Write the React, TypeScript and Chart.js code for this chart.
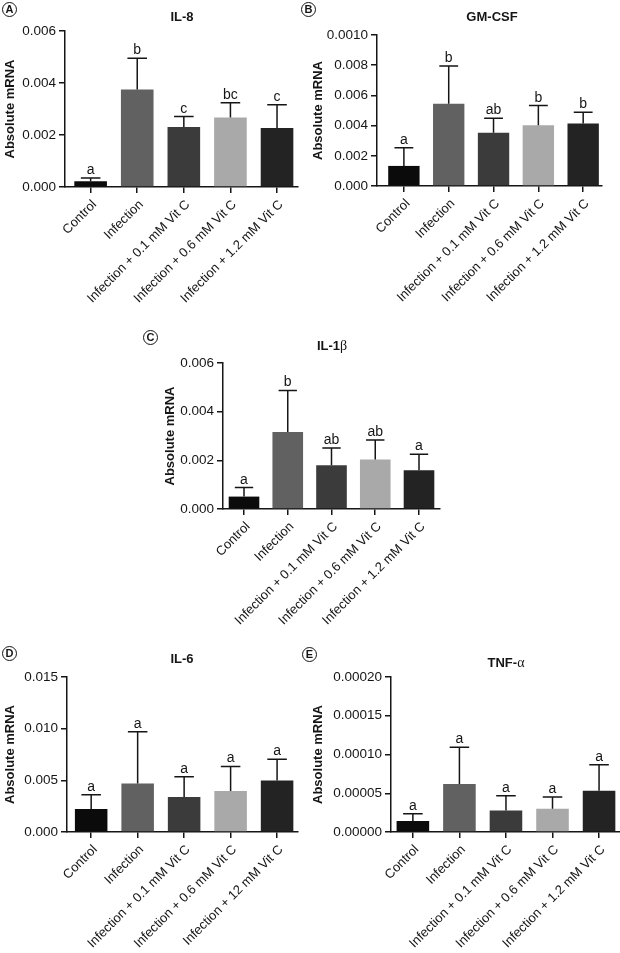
import { useEffect, useRef } from 'react';
import { Chart, registerables } from 'chart.js';

Chart.register(...registerables);

const FONT = '"Liberation Sans", Arial, Helvetica, sans-serif';
const INK = '#151515';

// shared categories + bar fills
const categories = [
  'Control',
  'Infection',
  'Infection + 0.1 mM Vit C',
  'Infection + 0.6 mM Vit C',
  'Infection + 1.2 mM Vit C',
];
// panel D prints the last group without the decimal point
const il6Categories = [
  'Control',
  'Infection',
  'Infection + 0.1 mM Vit C',
  'Infection + 0.6 mM Vit C',
  'Infection + 12 mM Vit C',
];
const barColors = ['#0b0b0b', '#616161', '#3b3b3b', '#a9a9a9', '#232323'];

// IL-8
const il8Mean = [0.00022, 0.00375, 0.00231, 0.00267, 0.00227];
const il8Sd = [0.00013, 0.0012, 0.0004, 0.00057, 0.00089];
const il8Sig = ['a', 'b', 'c', 'bc', 'c'];
const il8Ticks = [0, 0.002, 0.004, 0.006];
const il8TickLabels = ['0.000', '0.002', '0.004', '0.006'];

// GM-CSF (top label is printed as 0.0010 in the source figure)
const gmMean = [0.00133, 0.00544, 0.00352, 0.00403, 0.00414];
const gmSd = [0.00121, 0.0025, 0.00097, 0.0013, 0.00075];
const gmSig = ['a', 'b', 'ab', 'b', 'b'];
const gmTicks = [0, 0.002, 0.004, 0.006, 0.008, 0.01];
const gmTickLabels = ['0.000', '0.002', '0.004', '0.006', '0.008', '0.0010'];

// IL-1beta
const il1Mean = [0.00051, 0.00316, 0.0018, 0.00203, 0.00159];
const il1Sd = [0.00037, 0.00171, 0.00071, 0.00081, 0.00066];
const il1Sig = ['a', 'b', 'ab', 'ab', 'a'];
const il1Ticks = [0, 0.002, 0.004, 0.006];
const il1TickLabels = ['0.000', '0.002', '0.004', '0.006'];

// IL-6
const il6Mean = [0.00222, 0.0047, 0.00338, 0.00396, 0.00499];
const il6Sd = [0.00138, 0.00499, 0.00196, 0.00238, 0.00206];
const il6Sig = ['a', 'a', 'a', 'a', 'a'];
const il6Ticks = [0, 0.005, 0.01, 0.015];
const il6TickLabels = ['0.000', '0.005', '0.010', '0.015'];

// TNF-alpha
const tnfMean = [0.0000142, 0.0000618, 0.0000279, 0.00003, 0.0000532];
const tnfSd = [0.0000094, 0.0000476, 0.0000189, 0.0000151, 0.0000335];
const tnfSig = ['a', 'a', 'a', 'a', 'a'];
const tnfTicks = [0, 0.00005, 0.0001, 0.00015, 0.0002];
const tnfTickLabels = ['0.00000', '0.00005', '0.00010', '0.00015', '0.00020'];

interface Box {
  left: number;
  top: number;
  width: number;
  height: number;
}

interface PanelProps {
  letter: string;
  letterAt: [number, number];
  title: string;
  greek?: string;
  titleAt: [number, number];
  labels?: string[];
  mean: number[];
  sd: number[];
  sig: string[];
  ticks: number[];
  tickLabels: string[];
  box: Box;
  axisX: number;
  topY: number;
  zeroY: number;
  rightX: number;
  xMin: number;
  xMax: number;
}

function Panel(p: PanelProps) {
  const canvasRef = useRef<HTMLCanvasElement>(null);
  const labels = p.labels ?? categories;

  useEffect(() => {
    if (!canvasRef.current) return;
    const ctx = canvasRef.current.getContext('2d');
    if (!ctx) return;

    const errorBars = {
      id: 'errorBars',
      afterDatasetsDraw(chart: any) {
        const c = chart.ctx;
        const y = chart.scales.y;
        const meta = chart.getDatasetMeta(0);
        c.save();
        c.strokeStyle = INK;
        c.fillStyle = INK;
        c.lineWidth = 1.5;
        c.font = `14px ${FONT}`;
        c.textAlign = 'center';
        c.textBaseline = 'alphabetic';
        meta.data.forEach((bar: any, i: number) => {
          const x = bar.x;
          const yt = y.getPixelForValue(p.mean[i] + p.sd[i]);
          const half = bar.width * 0.3;
          c.beginPath();
          c.moveTo(x, bar.y);
          c.lineTo(x, yt);
          c.moveTo(x - half, yt);
          c.lineTo(x + half, yt);
          c.stroke();
          c.fillText(p.sig[i], x, yt - 4);
        });
        c.restore();
      },
    };

    const axisGrid = {
      drawOnChartArea: false,
      drawTicks: true,
      tickLength: 6,
      color: INK,
      lineWidth: 1.5,
    };

    const chart = new Chart(ctx, {
      type: 'bar',
      data: {
        datasets: [
          {
            data: p.mean.map((v, i) => ({ x: i, y: v })),
            backgroundColor: barColors,
            borderWidth: 0,
            barPercentage: 0.7,
            categoryPercentage: 1,
          },
        ],
      },
      options: {
        animation: false,
        responsive: false,
        maintainAspectRatio: false,
        layout: {
          padding: {
            top: p.topY - p.box.top,
            right: p.box.left + p.box.width - p.rightX,
            left: 0,
            bottom: 0,
          },
        },
        plugins: {
          legend: { display: false },
          tooltip: { enabled: false },
        },
        scales: {
          x: {
            type: 'linear',
            min: p.xMin,
            max: p.xMax,
            offset: false,
            afterBuildTicks: (s: any) => {
              s.ticks = labels.map((_, i) => ({ value: i }));
            },
            afterFit: (s: any) => {
              s.height = p.box.top + p.box.height - p.zeroY;
            },
            grid: { ...axisGrid, offset: false },
            border: { color: INK, width: 1.5 },
            ticks: {
              autoSkip: false,
              minRotation: 45,
              maxRotation: 45,
              padding: 4,
              labelOffset: 4,
              color: INK,
              font: { family: FONT, size: 13 },
              callback: (v: any) => labels[v as number],
            },
          },
          y: {
            min: 0,
            max: p.ticks[p.ticks.length - 1],
            afterBuildTicks: (s: any) => {
              s.ticks = p.ticks.map((v) => ({ value: v }));
            },
            afterFit: (s: any) => {
              s.width = p.axisX - p.box.left;
            },
            grid: axisGrid,
            border: { color: INK, width: 1.5 },
            ticks: {
              padding: 3,
              color: INK,
              font: { family: FONT, size: 13.5 },
              callback: (_v: any, i: number) => p.tickLabels[i],
            },
            title: {
              display: true,
              text: 'Absolute mRNA',
              color: INK,
              font: { family: FONT, size: 13, weight: 'bold' },
              padding: { top: 3, bottom: 0 },
            },
          },
        },
      } as any,
      plugins: [errorBars],
    });

    return () => chart.destroy();
  }, []);

  const { box } = p;
  return (
    <>
      <canvas
        ref={canvasRef}
        width={box.width}
        height={box.height}
        style={{ position: 'absolute', left: box.left, top: box.top, width: box.width, height: box.height }}
      />
      <div
        style={{
          position: 'absolute',
          left: p.titleAt[0],
          top: p.titleAt[1] - 8,
          transform: 'translateX(-50%)',
          font: `bold 13px ${FONT}`,
          lineHeight: '16px',
          color: INK,
          whiteSpace: 'nowrap',
        }}
      >
        {p.title}
        {p.greek && (
          <span style={{ fontFamily: '"Liberation Serif", serif', fontWeight: 'normal', fontSize: 14 }}>{p.greek}</span>
        )}
      </div>
      <div
        style={{
          position: 'absolute',
          left: p.letterAt[0] - 8,
          top: p.letterAt[1] - 8,
          width: 13,
          height: 13,
          border: `1.5px solid ${INK}`,
          borderRadius: '50%',
          font: `bold 11px ${FONT}`,
          lineHeight: '13px',
          textAlign: 'center',
          color: INK,
        }}
      >
        {p.letter}
      </div>
    </>
  );
}

export default function App() {
  useEffect(() => {
    document.body.style.margin = '0';
  }, []);

  return (
    <div style={{ position: 'relative', width: 620, height: 953, background: '#fff', overflow: 'hidden' }}>
      <Panel
        letter="A"
        letterAt={[10, 10]}
        title="IL-8"
        titleAt={[182, 17]}
        mean={il8Mean}
        sd={il8Sd}
        sig={il8Sig}
        ticks={il8Ticks}
        tickLabels={il8TickLabels}
        box={{ left: 0, top: 0, width: 305, height: 320 }}
        axisX={65}
        topY={31}
        zeroY={187}
        rightX={298}
        xMin={-0.55}
        xMax={4.45}
      />
      <Panel
        letter="B"
        letterAt={[309, 10]}
        title="GM-CSF"
        titleAt={[492, 17]}
        mean={gmMean}
        sd={gmSd}
        sig={gmSig}
        ticks={gmTicks}
        tickLabels={gmTickLabels}
        box={{ left: 308, top: 0, width: 312, height: 320 }}
        axisX={377}
        topY={35}
        zeroY={186}
        rightX={602}
        xMin={-0.6}
        xMax={4.42}
      />
      <Panel
        letter="C"
        letterAt={[151, 338]}
        title="IL-1"
        greek="β"
        titleAt={[332, 346]}
        mean={il1Mean}
        sd={il1Sd}
        sig={il1Sig}
        ticks={il1Ticks}
        tickLabels={il1TickLabels}
        box={{ left: 160, top: 325, width: 290, height: 320 }}
        axisX={223}
        topY={363}
        zeroY={509}
        rightX={440}
        xMin={-0.48}
        xMax={4.48}
      />
      <Panel
        letter="D"
        letterAt={[10, 654]}
        title="IL-6"
        titleAt={[182, 659]}
        labels={il6Categories}
        mean={il6Mean}
        sd={il6Sd}
        sig={il6Sig}
        ticks={il6Ticks}
        tickLabels={il6TickLabels}
        box={{ left: 0, top: 640, width: 305, height: 313 }}
        axisX={67}
        topY={677}
        zeroY={832}
        rightX={298}
        xMin={-0.52}
        xMax={4.45}
      />
      <Panel
        letter="E"
        letterAt={[310, 655]}
        title="TNF-"
        greek="α"
        titleAt={[506, 663]}
        mean={tnfMean}
        sd={tnfSd}
        sig={tnfSig}
        ticks={tnfTicks}
        tickLabels={tnfTickLabels}
        box={{ left: 308, top: 640, width: 312, height: 313 }}
        axisX={391}
        topY={677}
        zeroY={832}
        rightX={620}
        xMin={-0.47}
        xMax={4.45}
      />
    </div>
  );
}
